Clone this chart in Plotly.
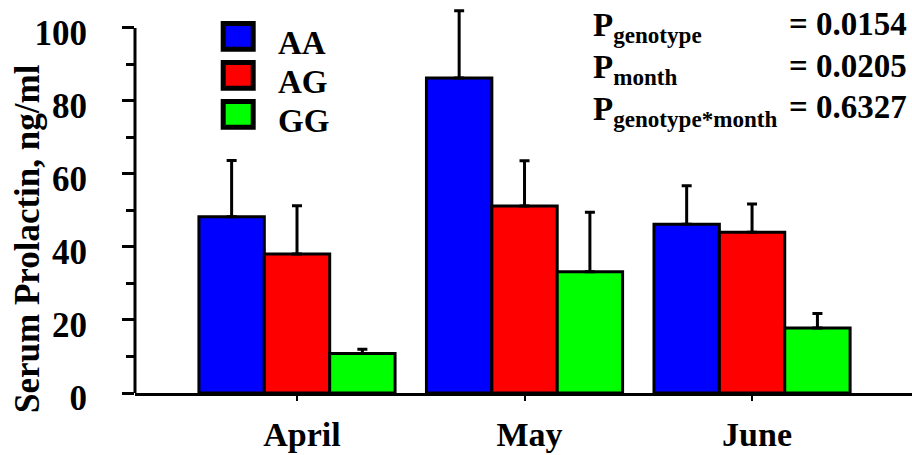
import plotly.graph_objects as go

months = ["April", "May", "June"]
genotypes = ["AA", "AG", "GG"]
colors = ["#0000FF", "#FF0000", "#00FF00"]
aa_mean = [48.3, 86.3, 46.2]
ag_mean = [38.1, 51.2, 44.0]
gg_mean = [10.8, 33.2, 17.8]
aa_err = [15.4, 18.4, 10.6]
ag_err = [13.2, 12.4, 7.8]
gg_err = [1.2, 16.3, 4.0]
y_ticks = [0, 20, 40, 60, 80, 100]
y_minor = [10, 30, 50, 70, 90]
p_labels = ["genotype", "month", "genotype*month"]
p_values = ["0.0154", "0.0205", "0.6327"]
y_title = "Serum Prolactin, ng/ml"

means = [aa_mean, ag_mean, gg_mean]
errs = [aa_err, ag_err, gg_err]

W, H = 912, 455
L, R, T, B = 135, 0, 6, 62
FONT = "Liberation Serif"
Y_MAX_VIEW = 106


def px(x):
    return (x - L) / (W - L - R)


def py(y):
    return (H - B - y) / (H - T - B)


fig = go.Figure()
for g, c, m, e in zip(genotypes, colors, means, errs):
    fig.add_trace(go.Bar(
        x=months, y=m, name=g,
        marker=dict(color=c, line=dict(color="black", width=3)),
        error_y=dict(type="data", array=e, arrayminus=[0] * len(e), symmetric=False,
                     color="black", thickness=3, width=5),
        showlegend=False,
    ))

annotations = [
    dict(text=y_title, x=px(27), y=py(239), xref="paper", yref="paper",
         textangle=-90, showarrow=False, xanchor="center", yanchor="middle",
         font=dict(family=FONT, size=35, weight="bold", color="black")),
]
shapes = [
    # y-axis line spanning 0..100 in data units
    dict(type="line", xref="paper", yref="y", x0=0, x1=0, y0=y_ticks[0], y1=y_ticks[-1],
         line=dict(color="black", width=3)),
]
for i, (g, c) in enumerate(zip(genotypes, colors)):
    shapes.append(dict(type="rect", xref="paper", yref="paper",
                       x0=px(223.2), x1=px(253.2),
                       y0=py(23.5 + 39 * i), y1=py(49.2 + 39 * i),
                       fillcolor=c, line=dict(color="black", width=5)))
    annotations.append(dict(text=g, x=px(276), y=py(43 + 39 * i), xref="paper", yref="paper",
                            showarrow=False, xanchor="left", yanchor="middle",
                            font=dict(family=FONT, size=33, weight="bold", color="black")))

for i, (lab, val) in enumerate(zip(p_labels, p_values)):
    base = 35 + 41.7 * i
    annotations.append(dict(text="P<sub>" + lab + "</sub>", x=px(591), y=py(base - 7),
                            xref="paper", yref="paper", showarrow=False,
                            xanchor="left", yanchor="middle",
                            font=dict(family=FONT, size=33, weight="bold", color="black")))
    annotations.append(dict(text="= " + val, x=px(909), y=py(base - 11),
                            xref="paper", yref="paper", showarrow=False,
                            xanchor="right", yanchor="middle",
                            font=dict(family=FONT, size=33, weight="bold", color="black")))

fig.update_layout(
    width=W, height=H,
    margin=dict(l=L, r=R, t=T, b=B, pad=0, autoexpand=False),
    paper_bgcolor="white", plot_bgcolor="white",
    barmode="group", bargap=0.138, bargroupgap=0,
    showlegend=False,
    annotations=annotations, shapes=shapes,
    xaxis=dict(type="category", range=[-0.712, 2.703], showline=True, linecolor="black",
               linewidth=3, ticks="outside", ticklen=5, tickwidth=2, tickcolor="black",
               showgrid=False, zeroline=False, ticklabelshift=5, ticklabelstandoff=4,
               automargin=False,
               tickfont=dict(family=FONT, size=34, weight="bold", color="black")),
    yaxis=dict(range=[0, Y_MAX_VIEW], tickmode="array", tickvals=y_ticks, showline=False,
               ticks="outside", ticklen=12, tickwidth=3,
               tickcolor="black", showgrid=False, zeroline=False,
               ticklabelstandoff=28, ticklabelshift=5, automargin=False,
               minor=dict(tickmode="array", tickvals=y_minor, ticks="outside", ticklen=8,
                          tickwidth=3, tickcolor="black", showgrid=False),
               tickfont=dict(family=FONT, size=35, weight="bold", color="black")),
)

fig.write_html("out.html", config={"displayModeBar": False},
               post_script="document.body.style.margin='0px';")
